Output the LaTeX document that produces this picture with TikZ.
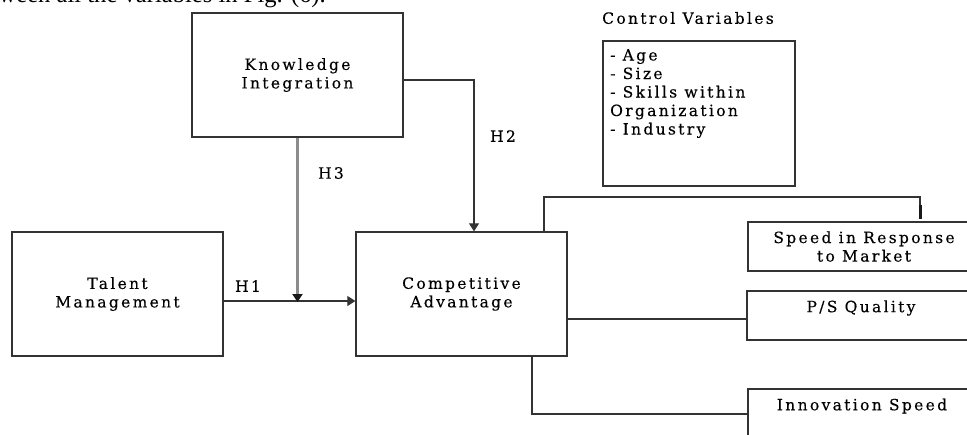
\documentclass[tikz,border=0pt]{standalone}
\usepackage{fontspec}
\setmainfont{Liberation Serif}
\newfontfamily\lblfont{DejaVu Serif}[LetterSpace=15,FakeBold=0.25]
\usetikzlibrary{arrows.meta}
\tikzset{
  lbl/.style={font=\lblfont\fontsize{15.5}{18.5}\selectfont, inner sep=0pt, text=black},
  box/.style={lbl, draw=black!80, line width=1.3pt, align=center},
  conn/.style={draw=black!80, line width=1.2pt},
  arr/.style={conn, -{Triangle[length=8pt,width=10pt]}},
  grayarr/.style={draw=black!45, line width=3pt, -{Triangle[length=8pt,width=10pt,fill=black!90,color=black!90]}, shorten >=-1pt},
}
\begin{document}
\begin{tikzpicture}[x=1pt,y=-1pt]
\useasboundingbox (0,0) rectangle (967,434);
\clip (0,0) rectangle (967,434);
% cropped body text at the top
\node[font=\fontsize{24.6}{26}\selectfont, anchor=base east, inner sep=0pt] (toptext) at (326,2) {between all the variables in Fig. (6).};
% boxes
\node[box, minimum width=211pt, minimum height=124pt] (ki) at (297.5,75) {Knowledge\\Integration};
\node[box, minimum width=211pt, minimum height=124pt] (tm) at (117.5,294) {Talent\\Management};
\node[box, minimum width=211pt, minimum height=124pt] (ca) at (461.5,294) {Competitive\\Advantage};
\node[lbl] (cvt) at (688,18) {Control Variables};
\node[box, minimum width=192pt, minimum height=145pt] (cv) at (699,113.5) {};
\node[lbl, anchor=north west, align=left] (cvl) at (610,49) {- Age\\- Size\\- Skills within\\Organization\\- Industry};
\node[box, minimum width=232pt, minimum height=49pt] (sp) at (864,246.5) {Speed in Response\\to Market};
\node[box, minimum width=233pt, minimum height=49pt] (ps) at (863.5,315.5) {};
\node[lbl] (pst) at (861,308) {P/S Quality};
\node[box, minimum width=232pt, minimum height=61pt] (in) at (864,419.5) {};
\node[lbl] (int) at (862,406) {Innovation Speed};
% hypothesis labels
\node[lbl] (h1l) at (248,286) {H1};
\node[lbl] (h3l) at (331,173) {H3};
\node[lbl] (h2l) at (503,136) {H2};
% connectors
\coordinate (j) at (297.5,301);
\coordinate (h2c) at (474,80);
\coordinate (b1) at (544,197);
\coordinate (b2) at (920,197);
\coordinate (b3) at (920,219);
\coordinate (pc) at (650,319);
\coordinate (q) at (532,414);
\draw[arr] (tm.east |- j) -- (ca.west |- j);
\draw[grayarr] (ki.south) -- (j);
\draw[arr] (ki.east |- h2c) -- (h2c) -- (h2c |- ca.north);
\draw[conn] (ca.north -| b1) -- (b1) -- (b2) -- (b3);
\draw[line width=3pt, draw=black!90] (920,205) -- (b3);
\draw[conn] (ca.east |- pc) -- (ps.west |- pc);
\draw[conn] (ca.south -| q) -- (q) -- (in.west |- q);
\end{tikzpicture}
\end{document}
